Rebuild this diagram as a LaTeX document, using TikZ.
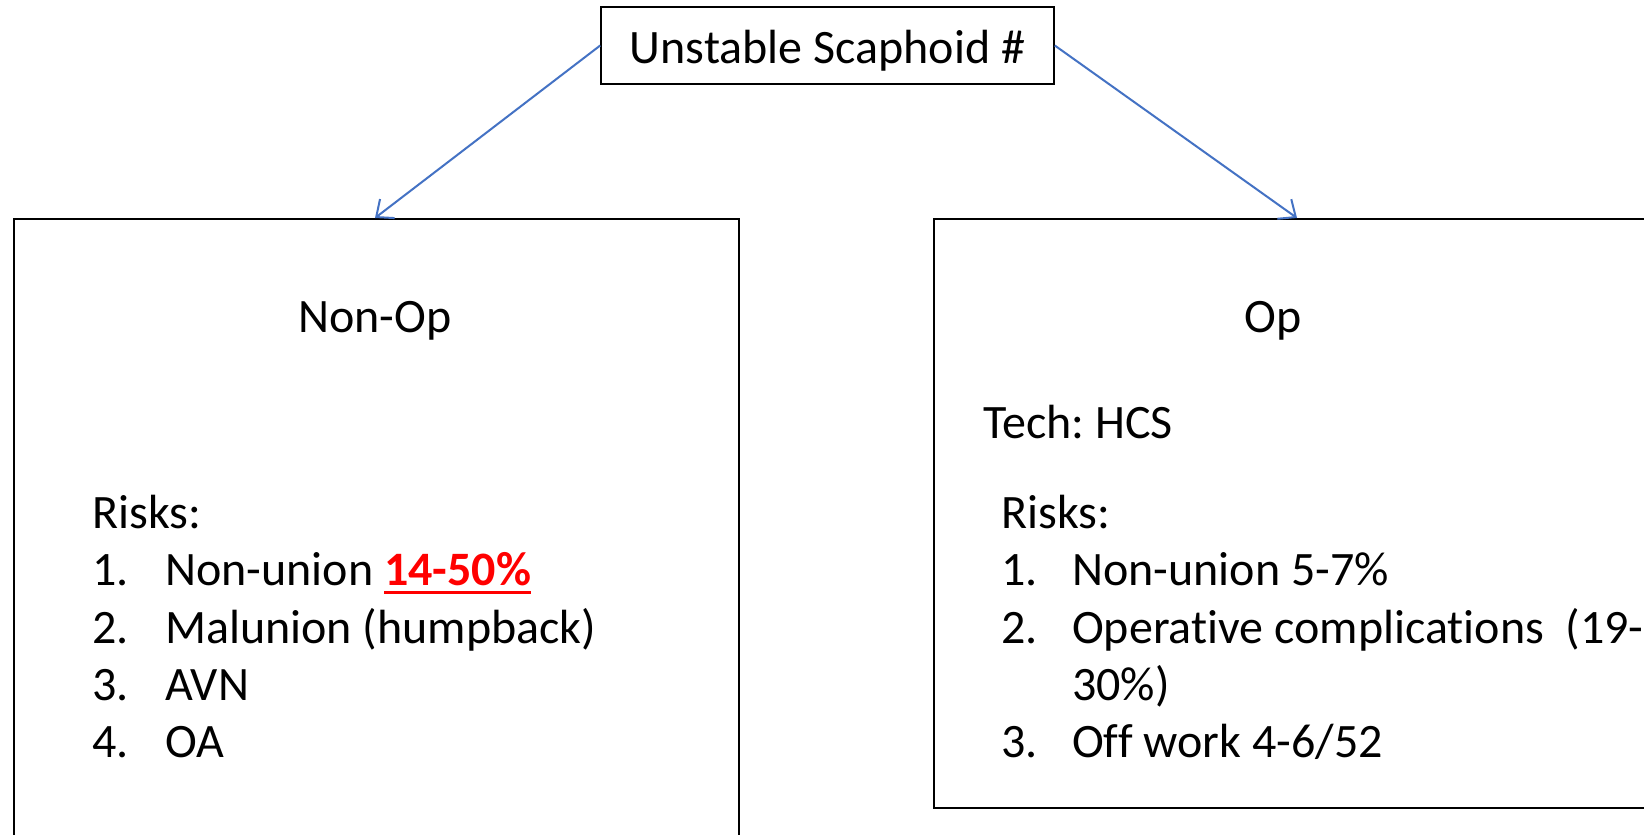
\documentclass[tikz,border=0pt]{standalone}
\usepackage{fontspec}
\setmainfont{Carlito}[Ligatures={NoCommon}]
\frenchspacing
\usetikzlibrary{arrows.meta}
\definecolor{arrowblue}{HTML}{4472C4}
\definecolor{hired}{HTML}{FF0000}
\newcommand{\myul}[1]{\setbox0\hbox{#1}\rlap{\vrule height -5.5pt depth 8.2pt width \wd0}\box0}
\begin{document}
\frenchspacing
\begin{tikzpicture}[x=1pt,y=-1pt,
  box/.style={draw=black, line width=1.6pt, inner sep=0pt, anchor=north west},
  txt/.style={inner sep=0pt, anchor=base west, font=\fontsize{48}{58}\selectfont},
  link/.style={draw=arrowblue, line width=2pt, -{Straight Barb[length=14pt,width=24pt,line width=2pt]}}]
\useasboundingbox (0,0) rectangle (1644,835);
\fill[white] (0,0) rectangle (1644,835);
% boxes
\node[box, anchor=center, minimum width=453pt, minimum height=77pt,
  font=\fontsize{48}{58}\selectfont, text height=46pt, text depth=10pt] (top) at (827.5,45.5) {Unstable Scaphoid \#};
\node[box, minimum width=725pt, minimum height=660pt] (nonop) at (13,218) {};
\node[box, minimum width=760pt, minimum height=589pt] (op) at (933,218) {};
% connectors
\coordinate (ltip) at (375,218);
\coordinate (rtip) at (1297,218);
\draw[link] (top.west) -- (ltip);
\draw[link] (top.east) -- (rtip);
% left texts
\node[txt, anchor=base] (nonoptitle) at (375,332) {Non-Op};
\node[txt] (lrisks) at (92,528) {Risks:};
\node[txt] (l1n) at (92,585.5) {1.};
\node[txt] (l1) at (165,585.5) {Non-union {\color{hired}\bfseries\myul{14-50\%}}};
\node[txt] (l2n) at (92,643) {2.};
\node[txt] (l2) at (165,643) {Malunion (humpback)};
\node[txt] (l3n) at (92,700) {3.};
\node[txt] (l3) at (165,700) {AVN};
\node[txt] (l4n) at (92,757) {4.};
\node[txt] (l4) at (165,757) {OA};
% right texts
\node[txt, anchor=base] (optitle) at (1273,332) {Op};
\node[txt] (tech) at (983,438) {Tech: HCS};
\node[txt] (rrisks) at (1001,528) {Risks:};
\node[txt] (r1n) at (1001,585.5) {1.};
\node[txt] (r1) at (1072,585.5) {Non-union 5-7\%};
\node[txt] (r2n) at (1001,643) {2.};
\node[txt] (r2) at (1072,643) {Operative complications\ \ (19-};
\node[txt] (r2b) at (1072,700) {30\%)};
\node[txt] (r3n) at (1001,757) {3.};
\node[txt] (r3) at (1072,757) {Off work 4-6/52};
\end{tikzpicture}
\end{document}
